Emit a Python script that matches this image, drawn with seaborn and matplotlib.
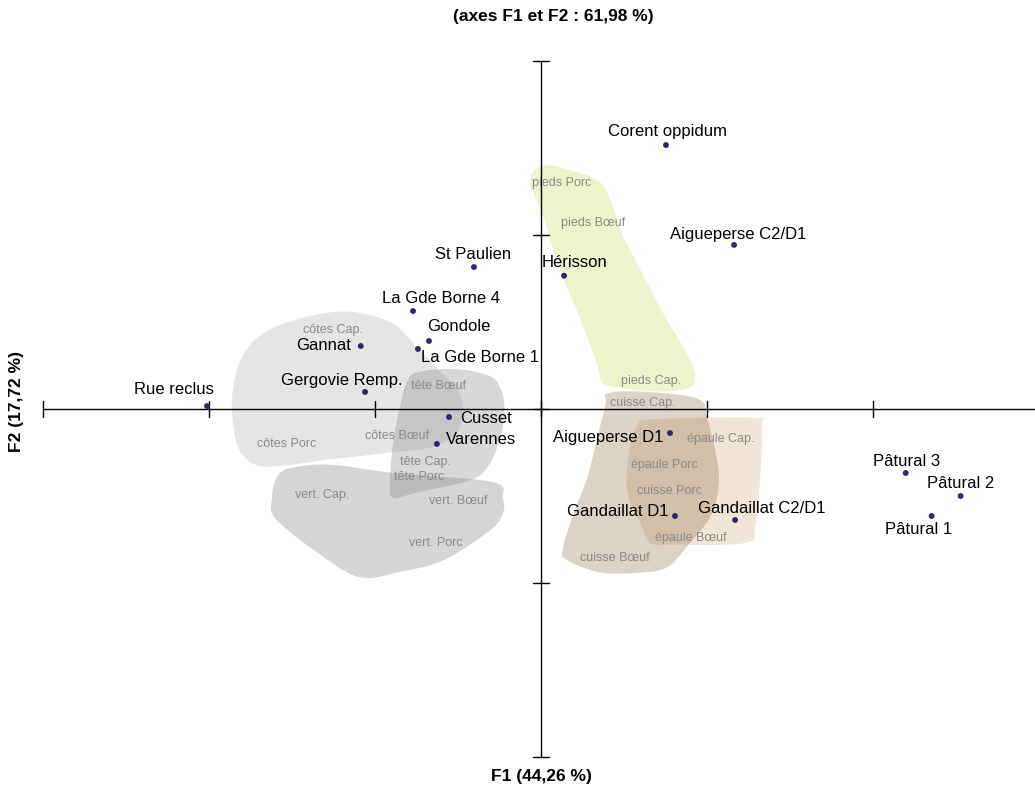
import numpy as np
import pandas as pd
import matplotlib
matplotlib.use("Agg")
import matplotlib.pyplot as plt
import seaborn as sns

# --- data: observations (sites) on F1/F2 ---
sites = ["Corent oppidum", "Aigueperse C2/D1", "St Paulien", "Hérisson",
         "La Gde Borne 4", "Gondole", "Gannat", "La Gde Borne 1",
         "Gergovie Remp.", "Rue reclus", "Cusset", "Varennes",
         "Aigueperse D1", "Gandaillat D1", "Gandaillat C2/D1",
         "Pâtural 3", "Pâtural 2", "Pâtural 1"]
f1 = [0.753, 1.163, -0.404, 0.139, -0.771, -0.675, -1.086, -0.741,
      -1.060, -2.012, -0.554, -0.627, 0.777, 0.807, 1.169,
      2.197, 2.528, 2.353]
f2 = [1.517, 0.943, 0.816, 0.766, 0.563, 0.391, 0.362, 0.345,
      0.098, 0.017, -0.046, -0.201, -0.138, -0.615, -0.638,
      -0.368, -0.500, -0.615]

# --- data: variables (anatomical parts) ---
parts = ["pieds Porc", "pieds Bœuf", "pieds Cap.", "cuisse Cap.", "épaule Cap.",
         "épaule Porc", "cuisse Porc", "épaule Bœuf", "cuisse Bœuf",
         "côtes Cap.", "tête Bœuf", "côtes Bœuf", "côtes Porc", "tête Cap.",
         "tête Porc", "vert. Cap.", "vert. Bœuf", "vert. Porc"]
parts_f1 = [0.127, 0.313, 0.663, 0.615, 1.084, 0.741, 0.771, 0.904, 0.446,
            -1.253, -0.620, -0.867, -1.530, -0.699, -0.735, -1.319, -0.500, -0.633]
parts_f2 = [1.299, 1.069, 0.161, 0.034, -0.172, -0.322, -0.471, -0.741, -0.856,
            0.454, 0.132, -0.155, -0.201, -0.305, -0.391, -0.494, -0.529, -0.770]

# --- data: group envelopes (outline points, F1/F2 units) ---
hull_pieds_x = [-0.07, -0.04, 0.04, 0.22, 0.36, 0.43, 0.49, 0.55, 0.73, 0.89,
                0.93, 0.89, 0.72, 0.48, 0.37, 0.34, 0.24, 0.11, 0.02, -0.04]
hull_pieds_y = [1.30, 1.37, 1.40, 1.36, 1.30, 1.17, 1.00, 0.89, 0.56, 0.30,
                0.18, 0.12, 0.10, 0.12, 0.15, 0.25, 0.51, 0.81, 1.09, 1.23]
hull_cotes_x = [-1.17, -1.45, -1.68, -1.81, -1.86, -1.85, -1.80, -1.66, -1.27,
                -0.91, -0.66, -0.51, -0.47, -0.50, -0.61, -0.76, -0.91]
hull_cotes_y = [0.56, 0.52, 0.43, 0.28, 0.08, -0.12, -0.26, -0.33, -0.29,
                -0.25, -0.22, -0.14, -0.01, 0.11, 0.22, 0.37, 0.50]
hull_tete_x = [-0.75, -0.52, -0.31, -0.24, -0.22, -0.25, -0.32, -0.43, -0.75,
               -0.89, -0.91, -0.89, -0.85, -0.81]
hull_tete_y = [0.21, 0.23, 0.19, 0.11, -0.01, -0.18, -0.33, -0.41, -0.48,
               -0.51, -0.42, -0.18, 0.01, 0.15]
hull_vert_x = [-1.51, -1.27, -0.87, -0.29, -0.23, -0.23, -0.31, -0.59, -0.87,
               -1.07, -1.25, -1.59, -1.62, -1.59]
hull_vert_y = [-0.34, -0.32, -0.37, -0.42, -0.51, -0.60, -0.70, -0.87, -0.94,
               -0.97, -0.89, -0.64, -0.51, -0.39]
hull_cuisse_x = [0.40, 0.60, 0.94, 1.00, 1.06, 1.07, 1.02, 0.88, 0.76, 0.60,
                 0.36, 0.16, 0.13, 0.19, 0.28, 0.34, 0.39]
hull_cuisse_y = [0.09, 0.10, 0.06, -0.05, -0.29, -0.45, -0.62, -0.79, -0.91,
                 -0.94, -0.94, -0.87, -0.81, -0.62, -0.39, -0.16, 0.03]
hull_epaule_x = [0.58, 0.66, 1.30, 1.33, 1.32, 1.29, 1.23, 0.80, 0.66, 0.60,
                 0.52, 0.52, 0.54]
hull_epaule_y = [-0.10, -0.06, -0.05, -0.09, -0.39, -0.68, -0.77, -0.78, -0.77,
                 -0.66, -0.48, -0.33, -0.20]

title = "(axes F1 et F2 : 61,98 %)"
xlabel = "F1 (44,26 %)"
ylabel = "F2 (17,72 %)"
xticks = [-3, -2, -1, 0, 1, 2]
yticks = [-2, -1, 0, 1, 2]

# label offsets in pixels (dx, dy) relative to each site point
label_offsets = {
    "Corent oppidum": (2, 14), "Aigueperse C2/D1": (4, 10), "St Paulien": (-1, 13),
    "Hérisson": (10, 13), "La Gde Borne 4": (28, 13), "Gondole": (30, 14),
    "Gannat": (-37, 1), "La Gde Borne 1": (62, -9), "Gergovie Remp.": (-23, 11),
    "Rue reclus": (-33, 17), "Cusset": (37, -1), "Varennes": (44, 4),
    "Aigueperse D1": (-62, -4), "Gandaillat D1": (-57, 5),
    "Gandaillat C2/D1": (27, 12), "Pâtural 3": (1, 12), "Pâtural 2": (0, 13),
    "Pâtural 1": (-13, -13),
}


def smooth_closed(xs, ys, n=16):
    # closed Catmull-Rom spline through the outline points
    p = np.column_stack([xs, ys])
    m = len(p)
    out = []
    t = np.linspace(0, 1, n, endpoint=False)[:, None]
    for i in range(m):
        p0, p1, p2, p3 = p[i - 1], p[i], p[(i + 1) % m], p[(i + 2) % m]
        seg = 0.5 * ((2 * p1) + (-p0 + p2) * t + (2 * p0 - 5 * p1 + 4 * p2 - p3) * t ** 2
                     + (-p0 + 3 * p1 - 3 * p2 + p3) * t ** 3)
        out.append(seg)
    out = np.vstack(out)
    return out[:, 0], out[:, 1]


sns.set_style("white")
plt.rcParams["font.family"] = ["Liberation Sans", "DejaVu Sans"]

fig = plt.figure(figsize=(10.35, 7.89), dpi=100)
ax = fig.add_axes([0, 0, 1, 1])
ax.set_xlim(-541 / 166, 494 / 166)
ax.set_ylim(-380 / 174, 409 / 174)
ax.axis("off")

# envelopes
hulls = [
    (hull_cotes_x, hull_cotes_y, "#D0D0D0", 0.55),
    (hull_vert_x, hull_vert_y, "#808080", 0.33),
    (hull_tete_x, hull_tete_y, "#808080", 0.30),
    (hull_epaule_x, hull_epaule_y, "#E8D4BE", 0.60),
    (hull_cuisse_x, hull_cuisse_y, "#8C6A40", 0.30),
    (hull_pieds_x, hull_pieds_y, "#DCE68C", 0.45),
]
for hx, hy, col, a in hulls:
    sx, sy = smooth_closed(hx, hy)
    ax.fill(sx, sy, color=col, alpha=a, lw=0, zorder=1)

# axes cross with ticks
line_kw = dict(color="black", lw=1.0, zorder=2)
ax.plot([xticks[0], ax.get_xlim()[1]], [0, 0], **line_kw)
ax.plot([0, 0], [yticks[0], yticks[-1]], **line_kw)
for xt in xticks:
    ax.plot([xt, xt], [-8 / 174, 8 / 174], **line_kw)
for yt in yticks:
    ax.plot([-8 / 166, 8 / 166], [yt, yt], **line_kw)

# variable labels
for name, x, y in zip(parts, parts_f1, parts_f2):
    ax.text(x, y, name, ha="center", va="center", fontsize=9, color="#8A8A8A", zorder=3)

# site points
df = pd.DataFrame({"F1": f1, "F2": f2, "site": sites})
sns.scatterplot(data=df, x="F1", y="F2", color="#2B2A6B", s=18, edgecolor="none",
                ax=ax, legend=False, zorder=4)
for name, x, y in zip(sites, f1, f2):
    dx, dy = label_offsets[name]
    ax.annotate(name, (x, y), xytext=(dx, dy), textcoords="offset pixels",
                ha="center", va="center", fontsize=12, color="black", zorder=5)

fig.text(553 / 1035, 1 - 16 / 789, title, ha="center", va="center",
         fontsize=12.5, fontweight="bold", color="black")
fig.text(541 / 1035, 1 - 777 / 789, xlabel, ha="center", va="center",
         fontsize=12.5, fontweight="bold", color="black")
fig.text(17 / 1035, 1 - 402 / 789, ylabel, ha="center", va="center",
         fontsize=12.5, fontweight="bold", color="black", rotation=90)

fig.savefig("out.png", dpi=100)
